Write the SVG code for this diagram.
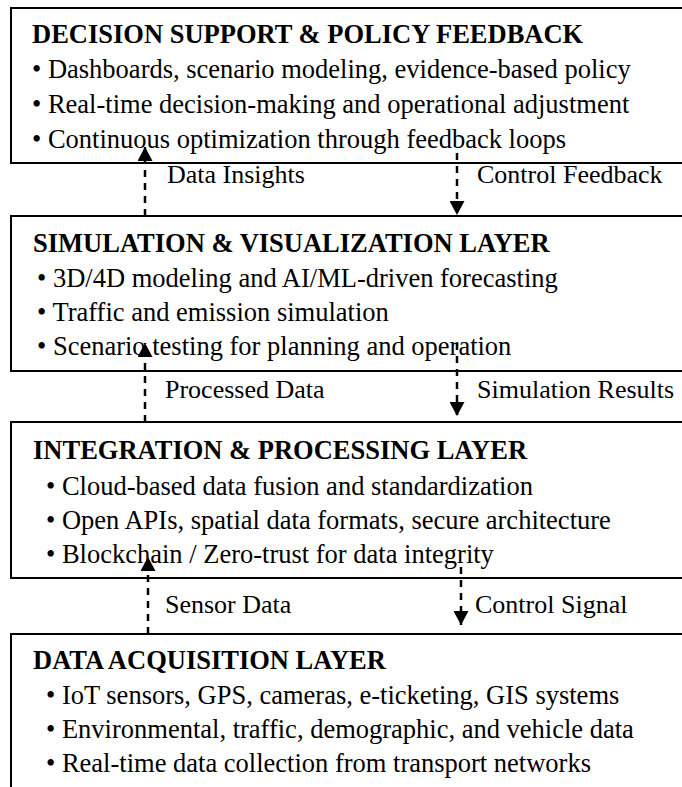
<svg xmlns="http://www.w3.org/2000/svg" width="682" height="787" viewBox="0 0 682 787">
<style>
.box{fill:#fff;stroke:#000;stroke-width:2}
.t{font-family:"Liberation Serif","Times New Roman",serif;font-size:26.5px;font-weight:bold;fill:#000}
.b{font-family:"Liberation Serif","Times New Roman",serif;font-size:26.5px;fill:#000}
.l{font-family:"Liberation Serif","Times New Roman",serif;font-size:26px;fill:#000}
.c{stroke:#000;stroke-width:2.5;stroke-dasharray:7,6;fill:none}
</style>
<defs>
<marker id="ah" viewBox="0 0 14 15" refX="14" refY="7.5" markerWidth="14" markerHeight="15" orient="auto" markerUnits="userSpaceOnUse">
<path d="M0,0 L14,7.5 L0,15 z" fill="#000"/>
</marker>
</defs>
<g id="n1">
<rect class="box" x="11" y="8" width="690" height="155"/>
<text class="t" x="32" y="43">DECISION SUPPORT &amp; POLICY FEEDBACK</text>
<text class="b" x="32" y="78">• Dashboards, scenario modeling, evidence-based policy</text>
<text class="b" x="32" y="113">• Real-time decision-making and operational adjustment</text>
<text class="b" x="32" y="148">• Continuous optimization through feedback loops</text>
</g>
<g id="n2">
<rect class="box" x="11" y="216" width="690" height="155"/>
<text class="t" x="33" y="252">SIMULATION &amp; VISUALIZATION LAYER</text>
<text class="b" x="37" y="287">• 3D/4D modeling and AI/ML-driven forecasting</text>
<text class="b" x="37" y="321">• Traffic and emission simulation</text>
<text class="b" x="37" y="355">• Scenario testing for planning and operation</text>
</g>
<g id="n3">
<rect class="box" x="11" y="422" width="690" height="156"/>
<text class="t" x="33" y="459">INTEGRATION &amp; PROCESSING LAYER</text>
<text class="b" x="46" y="495">• Cloud-based data fusion and standardization</text>
<text class="b" x="46" y="529">• Open APIs, spatial data formats, secure architecture</text>
<text class="b" x="46" y="563">• Blockchain / Zero-trust for data integrity</text>
</g>
<g id="n4">
<rect class="box" x="11" y="634" width="690" height="180"/>
<text class="t" x="33" y="669">DATA ACQUISITION LAYER</text>
<text class="b" x="46" y="704">• IoT sensors, GPS, cameras, e-ticketing, GIS systems</text>
<text class="b" x="46" y="738">• Environmental, traffic, demographic, and vehicle data</text>
<text class="b" x="46" y="772">• Real-time data collection from transport networks</text>
</g>
<g id="connectors">
<line class="c" x1="145" y1="216" x2="145" y2="147" marker-end="url(#ah)"/>
<line class="c" x1="457" y1="153" x2="457" y2="215" marker-end="url(#ah)"/>
<line class="c" x1="145" y1="422" x2="145" y2="343" marker-end="url(#ah)"/>
<line class="c" x1="457" y1="343" x2="457" y2="416" marker-end="url(#ah)"/>
<line class="c" x1="148" y1="634" x2="148" y2="557" marker-end="url(#ah)"/>
<line class="c" x1="461" y1="567" x2="461" y2="625" marker-end="url(#ah)"/>
</g>
<g id="labels">
<text class="l" x="167" y="183">Data Insights</text>
<text class="l" x="477" y="183">Control Feedback</text>
<text class="l" x="165" y="398">Processed Data</text>
<text class="l" x="477" y="398">Simulation Results</text>
<text class="l" x="165" y="613">Sensor Data</text>
<text class="l" x="475" y="613">Control Signal</text>
</g>
</svg>
